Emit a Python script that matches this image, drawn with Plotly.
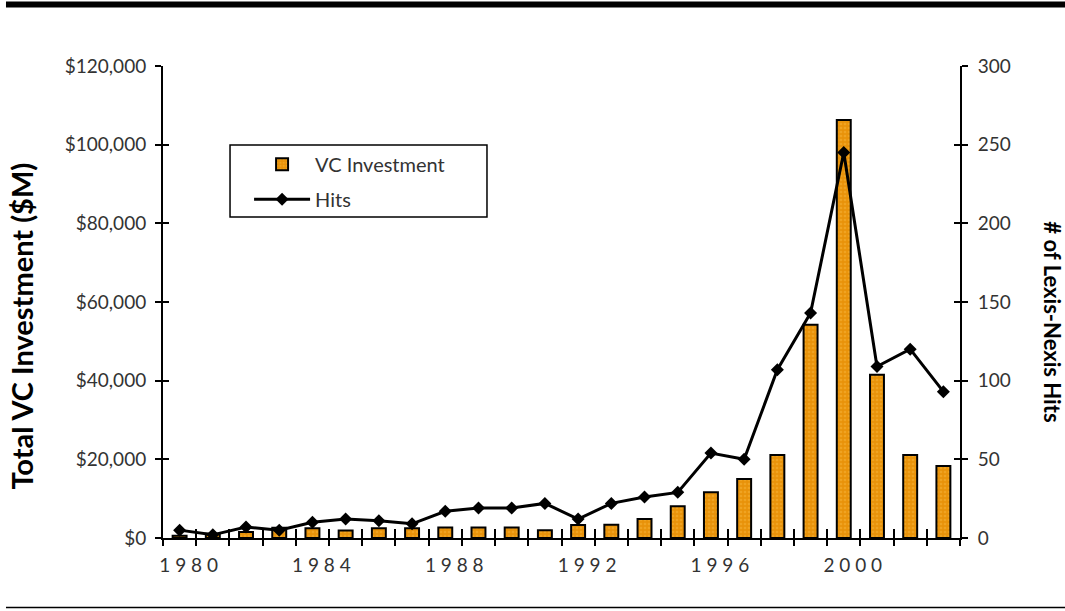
import plotly.graph_objects as go

years = list(range(1980, 2004))
vc_investment = [600, 1100, 1500, 2600, 2500, 1900, 2500, 2500, 2700, 2700, 2700, 2000,
                 3300, 3400, 4800, 8100, 11600, 15000, 21100, 54200, 106300, 41500, 21100, 18300]
hits = [5, 2, 7, 5, 10, 12, 11, 9, 17, 19, 19, 22,
        12, 22, 26, 29, 54, 50, 107, 143, 245, 109, 120, 93]
label_years = [1980, 1984, 1988, 1992, 1996, 2000]
label_text = [" ".join(str(y)) for y in label_years]
left_ticks = [0, 20000, 40000, 60000, 80000, 100000, 120000]
left_text = ["$" + format(v, ",") for v in left_ticks]
right_ticks = [0, 50, 100, 150, 200, 250, 300]

FONT = "Lato"
TXT = "#333333"
TICKFONT = dict(size=19, family=FONT, color=TXT, weight=400)

fig = go.Figure()
fig.add_trace(go.Bar(
    x=years, y=vc_investment, name="VC Investment", width=0.42,
    legendgroup="a",
    marker=dict(color="#E8920A", line=dict(color="black", width=2),
                pattern=dict(shape=".", bgcolor="#E8920A", fgcolor="#F6B43A",
                             size=4, solidity=0.35, fillmode="overlay")),
    xaxis="x", yaxis="y"))
fig.add_trace(go.Scatter(
    x=years, y=hits, name="Hits", mode="lines+markers", legendgroup="b",
    line=dict(color="black", width=3),
    marker=dict(symbol="diamond", size=10, color="black"),
    xaxis="x", yaxis="y2"))

xrange = [years[0] - 0.5, years[-1] + 0.5]
bounds = [y - 0.5 for y in years] + [years[-1] + 0.5]

fig.update_layout(
    width=1065, height=611,
    margin=dict(l=163, r=105, t=66, b=73),
    paper_bgcolor="white", plot_bgcolor="white",
    font=dict(family=FONT, color=TXT, size=18),
    showlegend=True,
    legend=dict(x=0.108, y=0.833, xanchor="left", yanchor="top",
                borderwidth=0, bgcolor="rgba(0,0,0,0)",
                font=dict(size=20, family=FONT, color=TXT, weight=400),
                traceorder="grouped", tracegroupgap=6, itemwidth=56),
    xaxis=dict(range=xrange, tickvals=bounds, ticktext=[""] * len(bounds),
               ticks="outside", ticklen=6, tickwidth=1.5, tickcolor="black",
               showline=True, linecolor="black", linewidth=2, showgrid=False,
               zeroline=False, mirror=False),
    xaxis2=dict(range=xrange, overlaying="x", anchor="y", side="bottom",
                tickvals=bounds, ticktext=[""] * len(bounds),
                ticks="inside", ticklen=9, tickwidth=1.5, tickcolor="black",
                showline=False, showgrid=False, zeroline=False),
    xaxis3=dict(range=xrange, overlaying="x", anchor="y", side="bottom",
                tickvals=label_years, ticktext=label_text, ticks="",
                ticklabelshift=9, ticklabelstandoff=14,
                tickfont=dict(size=19, family=FONT, color=TXT, weight=400),
                showline=False, showgrid=False, zeroline=False),
    yaxis=dict(range=[0, 120000], tickvals=left_ticks, ticktext=left_text,
               ticks="outside", ticklen=6, tickwidth=1.5, tickcolor="black",
               ticklabelstandoff=5,
               showline=True, linecolor="black", linewidth=2, showgrid=False,
               zeroline=False, tickfont=TICKFONT),
    yaxis3=dict(range=[0, 120000], overlaying="y", anchor="x", side="left",
                tickvals=left_ticks, ticktext=[""] * len(left_ticks),
                ticks="inside", ticklen=6, tickwidth=1.5, tickcolor="black",
                showline=False, showgrid=False, zeroline=False),
    yaxis2=dict(range=[0, 300], tickvals=right_ticks, overlaying="y", side="right",
                anchor="x", ticks="outside", ticklen=6, tickwidth=1.5, tickcolor="black",
                ticklabelstandoff=6,
                showline=True, linecolor="black", linewidth=2, showgrid=False,
                zeroline=False, tickfont=TICKFONT),
    yaxis4=dict(range=[0, 300], overlaying="y", anchor="x", side="right",
                tickvals=right_ticks, ticktext=[""] * len(right_ticks),
                ticks="inside", ticklen=6, tickwidth=1.5, tickcolor="black",
                showline=False, showgrid=False, zeroline=False),
)

# invisible helpers so overlay axes are drawn
fig.add_trace(go.Scatter(x=[years[0]], y=[0], xaxis="x2", yaxis="y3", mode="markers",
                         marker=dict(opacity=0), showlegend=False, hoverinfo="skip"))
fig.add_trace(go.Scatter(x=[years[0]], y=[0], xaxis="x3", yaxis="y4", mode="markers",
                         marker=dict(opacity=0), showlegend=False, hoverinfo="skip"))

fig.add_annotation(text="<b>Total VC Investment ($M)</b>", xref="paper", yref="paper",
                   x=-0.177, y=0.45, xanchor="center", yanchor="middle",
                   textangle=-90, showarrow=False,
                   font=dict(size=29, family=FONT, color="black", weight=900))
fig.add_annotation(text="<b># of Lexis-Nexis Hits</b>", xref="paper", yref="paper",
                   x=1.116, y=0.458, xanchor="center", yanchor="middle",
                   textangle=90, showarrow=False,
                   font=dict(size=22, family=FONT, color="black", weight=900))

# legend frame
fig.add_shape(type="rect", xref="paper", yref="paper", x0=0.0841, x1=0.4065,
              y0=0.680, y1=0.8326, line=dict(color="black", width=1.5),
              fillcolor="white", layer="below")
fig.add_shape(type="line", xref="paper", yref="paper", x0=-0.197, x1=1.14,
              y0=1.1303, y1=1.1303, line=dict(color="black", width=6))
fig.add_shape(type="line", xref="paper", yref="paper", x0=-0.197, x1=1.14,
              y0=-0.147, y1=-0.147, line=dict(color="black", width=1.5))

fig.write_html("out.html", config={"displayModeBar": False},
               post_script="document.body.style.margin='0';"
                           "document.body.style.overflow='hidden';")
